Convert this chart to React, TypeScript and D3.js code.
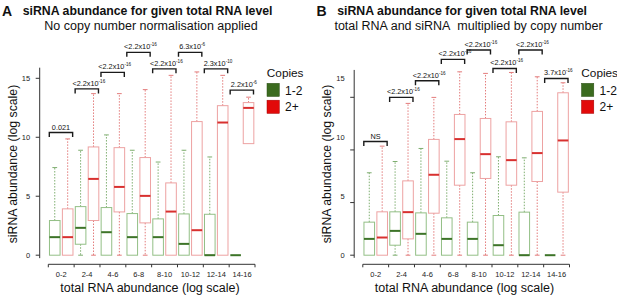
import React from "react";
import * as d3 from "d3";

const categories = ["0-2", "2-4", "4-6", "6-8", "8-10", "10-12", "12-14", "14-16"];
const yTickValues = [0, 5, 10, 15];

// Panel A – no copy number normalisation
const aGreenLow = [0, 0, 0, 0, 0, 0, 0, 0];
const aGreenQ1 = [0, 0.93, 0, 0, 0, 0, 0, 0];
const aGreenMed = [1.53, 2.32, 1.95, 1.53, 1.53, 0.96, 0, 0];
const aGreenQ3 = [2.94, 4.12, 4.04, 3.53, 3.08, 3.5, 3.47, 0];
const aGreenHigh = [7.43, 8.9, 10.2, 8.9, 7.9, 8.9, 8.33, 0];

const aRedLow = [0, 0, 0, 0, 0, 0, 0, 9.46];
const aRedQ1 = [0, 2.94, 3.67, 2.74, 0, 0, 0, 9.46];
const aRedMed = [1.53, 6.47, 5.79, 5.03, 3.7, 2.12, 11.25, 12.49];
const aRedQ3 = [3.93, 9.18, 9.12, 8.28, 6.13, 11.33, 12.68, 12.94];
const aRedHigh = [9.86, 13.7, 13.7, 14.04, 15.25, 15.54, 15.25, 13.4];

const aPBase = ["0.021", "<2.2x10", "<2.2x10", "<2.2x10", "<2.2x10", "6.3x10", "2.3x10", "2.2x10"];
const aPExp = ["", "-16", "-16", "-16", "-16", "-6", "-10", "-6"];
const aPLevel = [10.4, 14.1, 15.5, 17.2, 15.8, 17.2, 15.8, 14.0];

// Panel B – multiplied by copy number
const bGreenLow = [0, 0, 0, 0, 0, 0, 0, 0];
const bGreenQ1 = [0, 0.95, 0, 0, 0, 0, 0, 0];
const bGreenMed = [1.55, 2.31, 2.03, 1.55, 1.55, 0.95, 0, 0];
const bGreenQ3 = [3.14, 4.12, 4.02, 3.55, 3.14, 3.77, 4.09, 0];
const bGreenHigh = [7.83, 8.9, 10.14, 8.93, 7.83, 9.35, 9.25, 0];

const bRedLow = [0, 0, 0, 0, 0, 0, 0, 0];
const bRedQ1 = [0, 1.55, 3.99, 6.65, 7.29, 6.65, 7.0, 5.99];
const bRedMed = [1.68, 4.09, 7.64, 11.03, 9.6, 9.03, 9.7, 10.9];
const bRedQ3 = [4.12, 7.06, 11.0, 13.37, 12.99, 12.67, 13.66, 15.43];
const bRedHigh = [10.36, 14.42, 14.99, 17.42, 17.27, 17.36, 16.95, 16.38];

const bPBase = ["NS", "<2.2x10", "<2.2x10", "<2.2x10", "<2.2x10", "<2.2x10", "<2.2x10", "3.7x10"];
const bPExp = ["", "-16", "-16", "-16", "-16", "-16", "-16", "-16"];
const bPLevel = [10.8, 14.99, 16.57, 18.6, 19.49, 17.74, 19.49, 16.79];

const legendLabels = ["1-2", "2+"];

const FONT = "'Liberation Sans', Arial, Helvetica, sans-serif";

type Box = { low: number; q1: number; med: number; q3: number; high: number };

function build(low: number[], q1: number[], med: number[], q3: number[], high: number[]): Box[] {
  return categories.map((_, i) => ({ low: low[i], q1: q1[i], med: med[i], q3: q3[i], high: high[i] }));
}

const GREEN = { box: "#93bf86", med: "#3d7428", whisk: "#7fae70" };
const RED = { box: "#eda2a2", med: "#d8302f", whisk: "#e37c7c" };

function BoxMark({ cx, w, b, y, c }: { cx: number; w: number; b: Box; y: d3.ScaleLinear<number, number>; c: typeof GREEN }) {
  const cap = w * 0.45;
  return (
    <g>
      {b.high > b.q3 && (
        <>
          <line x1={cx} x2={cx} y1={y(b.q3)} y2={y(b.high)} stroke={c.whisk} strokeWidth={1} strokeDasharray="1.5,1.5" />
          <line x1={cx - cap / 2} x2={cx + cap / 2} y1={y(b.high)} y2={y(b.high)} stroke={c.whisk} strokeWidth={1} />
        </>
      )}
      {b.low < b.q1 && (
        <>
          <line x1={cx} x2={cx} y1={y(b.q1)} y2={y(b.low)} stroke={c.whisk} strokeWidth={1} strokeDasharray="1.5,1.5" />
          <line x1={cx - cap / 2} x2={cx + cap / 2} y1={y(b.low)} y2={y(b.low)} stroke={c.whisk} strokeWidth={1} />
        </>
      )}
      {b.q3 > b.q1 && (
        <rect x={cx - w / 2} y={y(b.q3)} width={w} height={y(b.q1) - y(b.q3)} fill="none" stroke={c.box} strokeWidth={1} />
      )}
      <line x1={cx - w / 2} x2={cx + w / 2} y1={y(b.med)} y2={y(b.med)} stroke={c.med} strokeWidth={2} />
    </g>
  );
}

type PanelProps = {
  ox: number;
  letter: string;
  title: string;
  subtitle: string;
  green: Box[];
  red: Box[];
  tickTop: number;
  labelTop: number;
  axisTopValue: number;
  pBase: string[];
  pExp: string[];
  pLevel: number[];
};

function Panel(p: PanelProps) {
  const { ox } = p;
  const x = d3.scaleBand<string>().domain(categories).range([48.3 + ox, 255 + ox]);
  const bw = x.bandwidth();
  const y = d3.scaleLinear().domain([0, 15]).range([255.2, p.tickTop]);
  const yLab = d3.scaleLinear().domain([0, 15]).range([255.2, p.labelTop]);
  const axisX = 39.7 + ox;
  const xAxisY = 264.3;
  const boxW = bw * 0.41;
  const tickEdges = [...categories.map((c) => x(c) as number), (x(categories[categories.length - 1]) as number) + bw];

  return (
    <g fontFamily={FONT}>
      <text x={2 + ox} y={15.5} fontSize={14} fontWeight="bold" fill="#111">{p.letter}</text>
      <text x={22.7 + ox} y={14.5} fontSize={12.3} fontWeight="bold" fill="#111">{p.title}</text>
      <text x={ox + (p.letter === "A" ? 151 : 154)} y={30} fontSize={12.5} textAnchor="middle" fill="#111">{p.subtitle}</text>

      {/* y axis */}
      <line x1={axisX} x2={axisX} y1={y(-0.25)} y2={y(p.axisTopValue)} stroke="#333" strokeWidth={1} />
      {yTickValues.map((v) => (
        <line key={"t" + v} x1={axisX - 4} x2={axisX} y1={y(v)} y2={y(v)} stroke="#333" strokeWidth={1} />
      ))}
      {yTickValues.map((v) => (
        <text key={"l" + v} x={axisX - 9.5} y={yLab(v)} dy="0.35em" fontSize={7.5} textAnchor="end" fill="#222">{v}</text>
      ))}
      <text transform={`translate(${16.5 + ox},164) rotate(-90)`} fontSize={12.3} textAnchor="middle" fill="#111">siRNA abundance (log scale)</text>

      {/* x axis */}
      <line x1={tickEdges[0]} x2={tickEdges[tickEdges.length - 1]} y1={xAxisY} y2={xAxisY} stroke="#333" strokeWidth={1} />
      {tickEdges.map((t, i) => (
        <line key={"xt" + i} x1={t} x2={t} y1={xAxisY} y2={xAxisY + 3} stroke="#333" strokeWidth={1} />
      ))}
      {categories.map((c) => (
        <text key={"xl" + c} x={(x(c) as number) + bw / 2} y={277} fontSize={7.5} textAnchor="middle" fill="#222">{c}</text>
      ))}
      <text x={150 + ox} y={291.5} fontSize={12.5} textAnchor="middle" fill="#111">total RNA abundance (log scale)</text>

      {/* boxes */}
      {categories.map((c, i) => (
        <g key={"b" + c}>
          <BoxMark cx={(x(c) as number) + bw * 0.25} w={boxW} b={p.green[i]} y={y} c={GREEN} />
          <BoxMark cx={(x(c) as number) + bw * 0.75} w={boxW} b={p.red[i]} y={y} c={RED} />
        </g>
      ))}

      {/* significance brackets */}
      {categories.map((c, i) => {
        const x0 = (x(c) as number) + 1;
        const x1 = (x(c) as number) + bw - 1.5;
        const yb = y(p.pLevel[i]);
        const hasExp = p.pExp[i] !== "";
        return (
          <g key={"p" + c}>
            <path d={`M${x0},${yb + 4.5}V${yb}H${x1}V${yb + 4.5}`} fill="none" stroke="#1a1a1a" strokeWidth={1.4} />
            <text x={(x0 + x1) / 2 + (hasExp ? 2 : 0)} y={yb - 3} fontSize={7.3} textAnchor="middle" fill="#111">
              <tspan>{p.pBase[i]}</tspan>
              {hasExp && (
                <tspan fontSize={4.6} dy={-3}>{p.pExp[i]}</tspan>
              )}
            </text>
          </g>
        );
      })}

      {/* legend */}
      <text x={266.8 + ox} y={76.5} fontSize={11.8} fill="#111">Copies</text>
      <rect x={267 + ox} y={83.3} width={12.3} height={13.2} fill="#3b6b1f" stroke="#2c4f17" strokeWidth={0.5} />
      <rect x={267 + ox} y={100.2} width={12.3} height={13.2} fill="#e20a0a" stroke="#a30000" strokeWidth={0.5} />
      <text x={285 + ox} y={94.5} fontSize={12} fill="#111">{legendLabels[0]}</text>
      <text x={285 + ox} y={111.3} fontSize={12} fill="#111">{legendLabels[1]}</text>
    </g>
  );
}

export default function App() {
  return (
    <svg width={617} height={298} style={{ position: "absolute", left: 0, top: 0, background: "#fff" }}>
      <rect width={617} height={298} fill="#fff" />
      <Panel
        ox={0}
        letter="A"
        title="siRNA abundance for given total RNA level"
        subtitle="No copy number normalisation applied"
        green={build(aGreenLow, aGreenQ1, aGreenMed, aGreenQ3, aGreenHigh)}
        red={build(aRedLow, aRedQ1, aRedMed, aRedQ3, aRedHigh)}
        tickTop={78.3}
        labelTop={78.3}
        axisTopValue={15.9}
        pBase={aPBase}
        pExp={aPExp}
        pLevel={aPLevel}
      />
      <Panel
        ox={314.5}
        letter="B"
        title="siRNA abundance for given total RNA level"
        subtitle={"total RNA and siRNA\u00a0 multiplied by copy number"}
        green={build(bGreenLow, bGreenQ1, bGreenMed, bGreenQ3, bGreenHigh)}
        red={build(bRedLow, bRedQ1, bRedMed, bRedQ3, bRedHigh)}
        tickTop={97.3}
        labelTop={78.3}
        axisTopValue={17.6}
        pBase={bPBase}
        pExp={bPExp}
        pLevel={bPLevel}
      />
    </svg>
  );
}
